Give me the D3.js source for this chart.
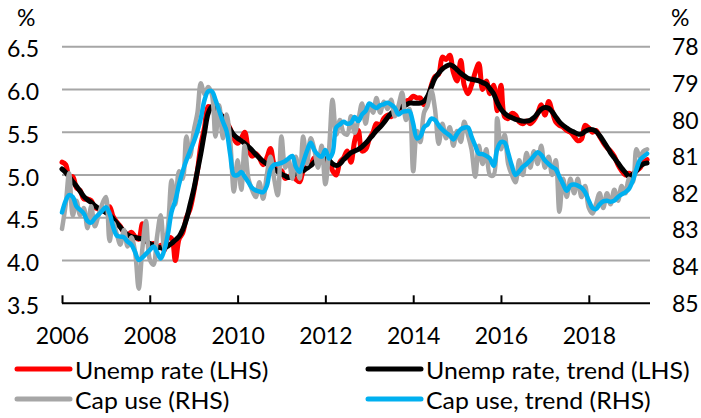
<!DOCTYPE html>
<html>
<head>
<meta charset="utf-8">
<script src="https://cdn.jsdelivr.net/npm/d3@7"></script>
<style>
  html, body { margin: 0; padding: 0; background: #fff; }
  svg { display: block; }
  text { font-family: Lato, "Open Sans", sans-serif; fill: #000; }
</style>
</head>
<body>
<svg id="chart" width="701" height="418"></svg>
<script>
// ---------- DATA (monthly, Jan 2006 .. May 2019) ----------
const startYear = 2006;
const unempRate = [
  5.15,5.12,4.98,4.98,4.85,4.82,4.72,4.72,4.70,4.62,4.60,4.58,
  4.58,4.63,4.52,4.45,4.40,4.33,4.30,4.33,4.28,4.25,4.43,4.25,
  4.18,4.20,4.14,4.18,4.12,4.26,4.26,4.00,4.25,4.32,4.50,4.60,
  4.80,5.05,5.35,5.56,5.80,5.78,5.76,5.72,5.68,5.62,5.54,5.42,
  5.37,5.43,5.50,5.30,5.22,5.25,5.20,5.12,5.20,5.31,5.12,5.05,
  5.05,4.96,4.98,5.00,4.95,4.92,5.05,5.10,5.12,5.20,5.17,5.22,
  5.10,5.18,5.05,5.00,5.15,5.20,5.28,5.15,5.40,5.52,5.28,5.30,
  5.42,5.50,5.60,5.58,5.66,5.70,5.68,5.72,5.77,5.80,5.86,5.88,
  5.92,5.90,5.90,5.82,5.88,6.05,6.15,6.18,6.38,6.35,6.40,6.20,
  6.10,6.34,6.05,5.95,6.05,6.20,6.30,6.00,6.10,5.95,6.05,5.75,
  6.05,5.68,5.66,5.72,5.70,5.62,5.60,5.63,5.60,5.64,5.72,5.82,
  5.70,5.86,5.75,5.62,5.58,5.56,5.52,5.50,5.45,5.40,5.42,5.58,
  5.55,5.50,5.52,5.45,5.38,5.32,5.28,5.22,5.12,5.05,5.00,5.02,
  5.00,5.05,5.08,5.15,5.18
];
const unempTrend = [
  5.07,5.03,4.98,4.92,4.87,4.81,4.75,4.71,4.68,4.64,4.61,4.59,
  4.56,4.53,4.49,4.44,4.39,4.34,4.30,4.28,4.27,4.26,4.25,4.23,
  4.20,4.18,4.16,4.15,4.15,4.17,4.20,4.24,4.28,4.36,4.48,4.65,
  4.83,5.05,5.25,5.50,5.72,5.80,5.78,5.73,5.67,5.60,5.53,5.47,
  5.43,5.40,5.37,5.33,5.29,5.24,5.20,5.16,5.13,5.10,5.07,5.04,
  5.01,4.99,4.97,4.99,5.02,5.04,5.05,5.08,5.11,5.15,5.18,5.20,
  5.19,5.17,5.13,5.11,5.13,5.18,5.22,5.26,5.28,5.30,5.33,5.37,
  5.42,5.47,5.52,5.56,5.61,5.67,5.72,5.75,5.78,5.80,5.82,5.84,
  5.84,5.84,5.84,5.86,5.92,6.03,6.13,6.19,6.24,6.27,6.29,6.27,
  6.23,6.19,6.16,6.13,6.12,6.11,6.10,6.08,6.06,6.01,5.95,5.85,
  5.77,5.72,5.69,5.67,5.65,5.64,5.63,5.63,5.64,5.67,5.72,5.77,
  5.79,5.78,5.74,5.68,5.62,5.58,5.55,5.52,5.50,5.48,5.48,5.51,
  5.53,5.53,5.51,5.46,5.40,5.33,5.26,5.20,5.14,5.08,5.03,4.98,
  5.01,5.05,5.10,5.13,5.14
];
const capUse = [
  82.97,82.30,81.45,82.60,82.20,82.60,82.40,82.95,82.35,82.90,82.60,82.30,
  82.10,83.30,82.80,83.10,83.40,83.00,83.45,83.20,83.60,84.60,83.50,82.75,
  83.80,83.95,83.20,82.60,83.50,82.90,81.65,82.30,81.40,81.60,80.45,81.00,
  80.30,79.80,79.00,79.30,79.10,79.30,80.45,79.60,80.50,79.85,80.60,81.95,
  81.10,81.90,80.70,81.60,81.90,82.10,81.70,82.15,81.50,81.00,81.60,82.05,
  80.45,81.30,81.10,81.60,81.00,81.60,80.45,81.20,80.50,80.80,81.30,80.70,
  81.75,80.80,79.45,80.40,80.00,80.35,80.40,79.90,80.35,80.00,79.55,80.10,
  79.60,79.80,79.40,79.80,79.50,79.70,79.45,79.90,79.60,79.25,80.00,79.70,
  81.40,80.30,80.60,79.80,79.60,79.20,79.70,80.65,80.10,80.50,80.20,80.70,
  80.30,80.60,80.05,80.40,80.80,81.55,80.70,81.20,80.80,81.50,81.50,79.95,
  80.80,80.40,81.20,81.50,81.70,81.10,81.50,80.90,81.30,80.85,81.20,80.70,
  81.30,81.00,81.50,81.10,82.50,81.60,82.10,81.60,82.00,81.60,82.10,81.80,
  82.40,82.55,82.30,82.00,82.40,82.00,82.30,81.90,82.20,81.80,82.00,81.60,
  81.70,80.80,81.00,80.85,80.80
];
const capUseTrend = [
  82.52,82.20,82.05,82.10,82.35,82.45,82.55,82.75,82.80,82.68,82.58,82.48,
  82.38,82.55,82.90,83.15,83.18,83.20,83.32,83.40,83.60,83.82,83.75,83.65,
  83.55,83.45,83.60,83.78,83.55,83.10,82.50,82.20,81.75,81.40,81.10,80.85,
  80.60,80.30,79.95,79.45,79.22,79.22,79.45,79.75,80.05,80.30,80.95,81.50,
  81.50,81.42,81.55,81.70,81.85,81.92,81.95,81.97,81.80,81.35,81.22,81.20,
  81.17,81.12,81.05,80.98,81.28,81.42,81.15,80.85,80.62,80.82,80.95,81.00,
  80.82,81.05,80.90,80.20,80.12,80.05,80.10,80.08,79.92,80.03,79.85,79.75,
  79.55,79.62,79.67,79.60,79.57,79.53,79.58,79.67,79.85,79.78,79.76,79.76,
  80.10,80.50,80.45,80.20,80.12,79.96,80.00,80.15,80.26,80.35,80.42,80.53,
  80.38,80.25,80.21,80.20,80.45,80.70,80.92,80.93,80.98,81.05,81.25,80.80,
  80.60,80.62,80.90,81.25,81.50,81.40,81.28,81.20,81.10,80.98,80.88,80.95,
  81.10,81.20,81.28,81.34,81.55,81.75,81.93,81.78,81.76,81.79,81.85,81.97,
  82.20,82.40,82.43,82.30,82.22,82.20,82.23,82.20,82.10,82.03,81.97,81.88,
  81.66,81.35,81.10,81.00,80.92
];
const leftTicks = [3.5, 4.0, 4.5, 5.0, 5.5, 6.0, 6.5];
const rightTicks = [78, 79, 80, 81, 82, 83, 84, 85];
const yearTicks = [2006, 2008, 2010, 2012, 2014, 2016, 2018];
const legendLabels = ["Unemp rate (LHS)", "Unemp rate, trend (LHS)", "Cap use (RHS)", "Cap use, trend (RHS)"];
const seriesColors = ["#ff0000", "#000000", "#a6a6a6", "#00b0f0"];

// ---------- CHART ----------
const svg = d3.select("#chart");
const plot = { left: 62, right: 650, top: 46.7, bottom: 303.3 };
const FS = 23;

const x = d3.scaleTime()
  .domain([new Date(2006, 0, 1), new Date(2019, 4, 25)])
  .range([plot.left, plot.right]);
const yL = d3.scaleLinear().domain([3.5, 6.5]).range([plot.bottom, plot.top]);
const yR = d3.scaleLinear().domain([78, 85]).range([plot.top, plot.bottom]);

const dateOf = i => new Date(startYear, i, 1);

// gridlines (LHS)
svg.append("g").selectAll("line")
  .data(leftTicks.filter(t => t > 3.5))
  .join("line")
  .attr("x1", plot.left).attr("x2", plot.right)
  .attr("y1", d => yL(d)).attr("y2", d => yL(d))
  .attr("stroke", "#a6a6a6").attr("stroke-width", 2);

// left axis labels
svg.append("g").selectAll("text")
  .data(leftTicks)
  .join("text")
  .attr("x", 39).attr("y", d => yL(d) + 10.5)
  .attr("text-anchor", "end")
  .attr("font-size", FS)
  .text(d => d.toFixed(1));

// right axis labels
svg.append("g").selectAll("text")
  .data(rightTicks)
  .join("text")
  .attr("x", 672).attr("y", d => yR(d) + 8.5)
  .attr("text-anchor", "start")
  .attr("font-size", FS)
  .text(d => d);

// % units
svg.append("text").attr("x", 17).attr("y", 26).attr("font-size", FS).text("%");
svg.append("text").attr("x", 671).attr("y", 26).attr("font-size", FS).text("%");

// x axis
const xAxis = d3.axisBottom(x)
  .tickValues(yearTicks.map(yr => new Date(yr, 0, 1)))
  .tickSize(-8)
  .tickFormat(d3.timeFormat("%Y"))
  .tickPadding(24);
const gx = svg.append("g").attr("transform", `translate(0,${plot.bottom})`).call(xAxis);
gx.select(".domain").attr("stroke", "#000").attr("stroke-width", 2)
  .attr("d", `M${plot.left},0H${plot.right}`);
gx.selectAll(".tick line").attr("stroke", "#000").attr("stroke-width", 2);
gx.selectAll(".tick text")
  .attr("font-size", FS).attr("font-family", "Lato, sans-serif").attr("fill", "#000");

// lines
const curve = d3.curveCatmullRom.alpha(0.5);
const lineL = d3.line().x((d, i) => x(dateOf(i))).y(d => yL(d)).curve(curve);
const lineR = d3.line().x((d, i) => x(dateOf(i))).y(d => yR(d)).curve(curve);

const g = svg.append("g").attr("fill", "none").attr("stroke-linejoin", "round").attr("stroke-linecap", "round");
g.append("path").attr("d", lineL(unempRate)).attr("stroke", seriesColors[0]).attr("stroke-width", 5);
g.append("path").attr("d", lineL(unempTrend)).attr("stroke", seriesColors[1]).attr("stroke-width", 5);
g.append("path").attr("d", lineR(capUse)).attr("stroke", seriesColors[2]).attr("stroke-width", 4.5);
g.append("path").attr("d", lineR(capUseTrend)).attr("stroke", seriesColors[3]).attr("stroke-width", 4.5);

// legend
const legendPos = [
  { lx: 17, ty: 371 }, { lx: 368, ty: 371 },
  { lx: 17, ty: 401 }, { lx: 368, ty: 401 }
];
const lg = svg.append("g");
legendLabels.forEach((lab, i) => {
  const p = legendPos[i];
  lg.append("line")
    .attr("x1", p.lx).attr("x2", p.lx + 53)
    .attr("y1", p.ty - 2).attr("y2", p.ty - 2)
    .attr("stroke", seriesColors[i]).attr("stroke-width", 5)
    .attr("stroke-linecap", "round");
  lg.append("text")
    .attr("transform", `translate(${p.lx + 58},${p.ty + 8}) scale(1.08,1)`)
    .attr("font-size", FS)
    .text(lab);
});
</script>
</body>
</html>
